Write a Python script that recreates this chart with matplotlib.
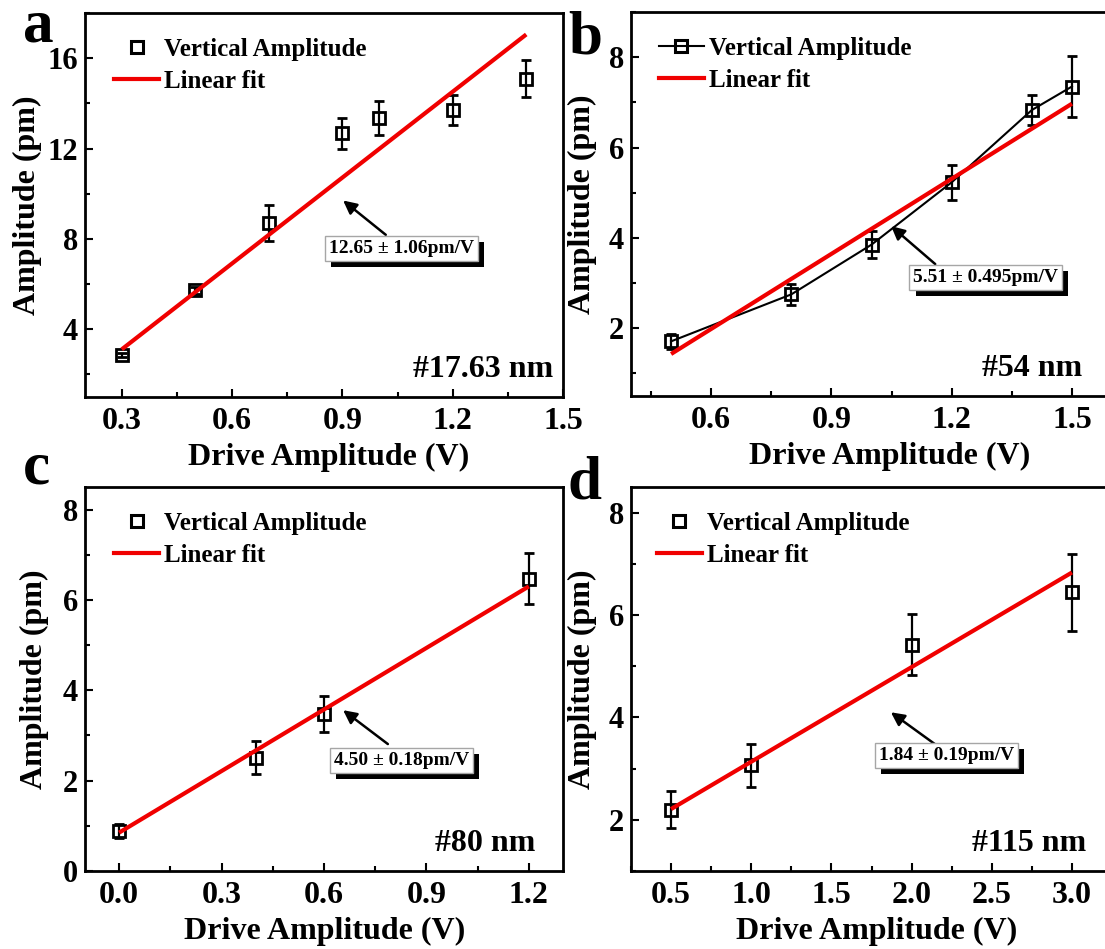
import matplotlib
matplotlib.use('Agg')
import matplotlib.pyplot as plt
import matplotlib.patheffects as pe
from matplotlib.lines import Line2D
from matplotlib.ticker import MultipleLocator

plt.rcParams['font.family'] = ['Liberation Serif', 'DejaVu Serif']
plt.rcParams['font.weight'] = 'bold'
plt.rcParams['axes.labelweight'] = 'bold'

# a: 17.63 nm
a_x = [0.3, 0.5, 0.7, 0.9, 1.0, 1.2, 1.4]
a_y = [2.85, 5.72, 8.71, 12.68, 13.36, 13.69, 15.1]
a_err = [0.1, 0.15, 0.8, 0.69, 0.74, 0.67, 0.8]
a_fit_x = [0.3, 1.4]
a_fit_y = [3.11, 17.05]
a_xticks = [0.3, 0.6, 0.9, 1.2, 1.5]
a_yticks = [4, 8, 12, 16]

# b: 54 nm
b_x = [0.5, 0.8, 1.0, 1.2, 1.4, 1.5]
b_y = [1.71, 2.75, 3.85, 5.23, 6.83, 7.35]
b_err = [0.17, 0.23, 0.3, 0.39, 0.33, 0.68]
b_fit_x = [0.5, 1.5]
b_fit_y = [1.43, 6.97]
b_xticks = [0.6, 0.9, 1.2, 1.5]
b_yticks = [2, 4, 6, 8]

# c: 80 nm
c_x = [0.0, 0.4, 0.6, 1.2]
c_y = [0.88, 2.51, 3.48, 6.47]
c_err = [0.15, 0.37, 0.4, 0.56]
c_fit_x = [0.0, 1.2]
c_fit_y = [0.85, 6.30]
c_xticks = [0.0, 0.3, 0.6, 0.9, 1.2]
c_yticks = [0, 2, 4, 6, 8]

# d: 115 nm
d_x = [0.5, 1.0, 2.0, 3.0]
d_y = [2.2, 3.07, 5.42, 6.44]
d_err = [0.36, 0.42, 0.59, 0.75]
d_fit_x = [0.5, 3.0]
d_fit_y = [2.21, 6.83]
d_xticks = [0.5, 1.0, 1.5, 2.0, 2.5, 3.0]
d_yticks = [2, 4, 6, 8]

slopes = ['12.65 \u00b1 1.06pm/V', '5.51 \u00b1 0.495pm/V',
          '4.50 \u00b1 0.18pm/V', '1.84 \u00b1 0.19pm/V']
samples = ['#17.63 nm', '#54 nm', '#80 nm', '#115 nm']

RED = '#f00000'
W, H = 1105, 949
fig = plt.figure(figsize=(W / 100, H / 100), dpi=100)


def panel(rect, x, y, err, fit_x, fit_y, xticks, yticks, xlim, ylim,
          xminor, yminor, joined, slope, box, head, tail, sample, sample_x,
          leg_x, ylab_x, xlab_x):
    ax = fig.add_axes([rect[0] / W, 1 - rect[1] / H, rect[2] / W, rect[3] / H])
    ax.errorbar(x, y, yerr=err, fmt='s', ls='-' if joined else 'none',
                color='k', lw=1.5, mfc='none', mec='k', ms=9, mew=2,
                ecolor='k', elinewidth=1.6, capsize=3.8, capthick=1.6, zorder=2)
    ax.plot(fit_x, fit_y, color=RED, lw=3, zorder=3, solid_capstyle='butt')

    ax.set_xlim(xlim)
    ax.set_ylim(ylim)
    ax.set_xticks(xticks)
    ax.set_yticks(yticks)
    ax.xaxis.set_minor_locator(MultipleLocator(xminor))
    ax.yaxis.set_minor_locator(MultipleLocator(yminor))
    ax.set_xticklabels(['%.1f' % v for v in xticks])
    ax.set_yticklabels(['%d' % v for v in yticks])
    ax.tick_params(which='both', direction='in', top=False, right=False, width=1.5)
    ax.tick_params(which='major', length=6)
    ax.tick_params(which='minor', length=3.5)
    ax.tick_params(axis='x', pad=7, labelsize=23)
    ax.tick_params(axis='y', pad=5, labelsize=22)
    for s in ax.spines.values():
        s.set_linewidth(2)

    ax.set_xlabel('Drive Amplitude (V)', fontsize=23)
    ax.set_ylabel('Amplitude (pm)', fontsize=23)
    ax.xaxis.set_label_coords(xlab_x, -0.12)
    ax.yaxis.set_label_coords(ylab_x, 0.5)

    handles = [
        Line2D([], [], color='k', lw=1.5, ls='-' if joined else 'none',
               marker='s', mfc='none', mec='k', ms=9, mew=2.2),
        Line2D([], [], color=RED, lw=3),
    ]
    ax.legend(handles, ['Vertical Amplitude', 'Linear fit'], loc='upper left',
              bbox_to_anchor=(leg_x, 0.936), frameon=False, fontsize=18,
              handlelength=1.8, handletextpad=0.2, labelspacing=0.36,
              borderaxespad=0, borderpad=0)

    ax.annotate('', xy=head, xytext=tail,
                arrowprops=dict(arrowstyle='-|>', color='k', lw=1.8,
                                mutation_scale=20, shrinkA=0, shrinkB=0))
    t = ax.text(box[0], box[1], slope, ha='center', va='center', fontsize=14,
                bbox=dict(boxstyle='square,pad=0.2', fc='white', ec='0.65', lw=1))
    t.get_bbox_patch().set_path_effects(
        [pe.SimplePatchShadow(offset=(4.5, -4.5), shadow_rgbFace='k', alpha=1.0),
         pe.Normal()])

    ax.text(sample_x, 0.052, sample, transform=ax.transAxes, ha='right',
            va='baseline', fontsize=23)
    return ax


panel((85, 397, 478, 384), a_x, a_y, a_err, a_fit_x, a_fit_y, a_xticks, a_yticks,
      (0.2, 1.5), (1, 18), 0.15, 2, False, slopes[0],
      (1.061, 7.59), (0.902, 9.70), (1.018, 8.18), samples[0], 0.979,
      0.061, -0.09, 0.51)
panel((631, 396, 481, 384), b_x, b_y, b_err, b_fit_x, b_fit_y, b_xticks, b_yticks,
      (0.4, 1.6), (0.5, 9), 0.15, 1, True, slopes[1],
      (1.285, 3.13), (1.049, 4.26), (1.159, 3.42), samples[1], 0.938,
      0.058, -0.07, 0.537)
panel((85, 871, 478, 384), c_x, c_y, c_err, c_fit_x, c_fit_y, c_xticks, c_yticks,
      (-0.1, 1.3), (0, 8.5), 0.15, 1, False, slopes[2],
      (0.827, 2.45), (0.656, 3.56), (0.787, 2.81), samples[2], 0.941,
      0.061, -0.076, 0.502)
panel((631, 871, 481, 384), d_x, d_y, d_err, d_fit_x, d_fit_y, d_xticks, d_yticks,
      (0.25, 3.25), (1, 8.5), 0.25, 1, False, slopes[3],
      (2.216, 3.26), (1.871, 4.10), (2.149, 3.47), samples[3], 0.946,
      0.054, -0.07, 0.511)

# panel letters
for letter, px, py in [('a', 23, 41), ('b', 568, 53), ('c', 23, 483), ('d', 568, 498)]:
    fig.text(px / W, 1 - py / H, letter, fontsize=44, fontweight='bold',
             ha='left', va='baseline')

fig.savefig('out.png', dpi=100)
